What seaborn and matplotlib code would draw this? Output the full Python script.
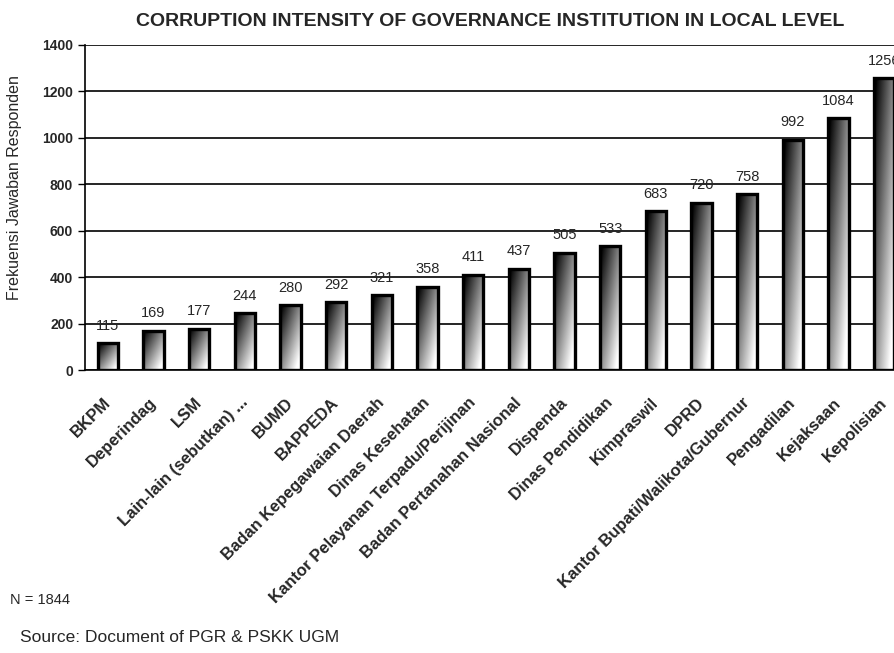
import numpy as np
import pandas as pd
import matplotlib
matplotlib.use("Agg")
import matplotlib.pyplot as plt
import matplotlib.transforms as mtransforms
import seaborn as sns

# data
institutions = ["BKPM", "Deperindag", "LSM", "Lain-lain (sebutkan) ...", "BUMD", "BAPPEDA",
                "Badan Kepegawaian Daerah", "Dinas Kesehatan",
                "Kantor Pelayanan Terpadu/Perijinan", "Badan Pertanahan Nasional",
                "Dispenda", "Dinas Pendidikan", "Kimpraswil", "DPRD",
                "Kantor Bupati/Walikota/Gubernur", "Pengadilan", "Kejaksaan", "Kepolisian"]
responses = [115, 169, 177, 244, 280, 292, 321, 358, 411, 437, 505, 533, 683, 720, 758, 992, 1084, 1256]
y_ticks = [0, 200, 400, 600, 800, 1000, 1200, 1400]

df = pd.DataFrame({"institution": institutions, "responses": responses})

sns.set_style("white")
plt.rcParams["font.family"] = ["Liberation Sans", "DejaVu Sans"]

fig = plt.figure(figsize=(8.94, 6.53), dpi=100)
ax = fig.add_axes([85 / 894, 1 - 370 / 653, 822 / 894, 325 / 653])

sns.barplot(data=df, x="institution", y="responses", color="white", edgecolor="black",
            linewidth=2.4, width=0.45, ax=ax, zorder=3)

# gradient fill: dark top-left to light bottom-right
gx, gy = np.meshgrid(np.linspace(0, 1, 60), np.linspace(0, 1, 120))
grad = np.clip(0.6 * gx + 0.6 * gy - 0.05, 0, 1)
for bar in ax.patches:
    x0 = bar.get_x()
    w = bar.get_width()
    h = bar.get_height()
    bar.set_facecolor("none")
    im = ax.imshow(grad, cmap="gray", vmin=0, vmax=1, extent=(x0, x0 + w, 0, h),
                   aspect="auto", zorder=2.5, interpolation="bilinear")
    im.set_clip_path(bar)
    ax.text(x0 + w / 2, h + 45, str(int(h)), ha="center", va="bottom", fontsize=10.5)

ax.set_xlim(-0.5, len(institutions) - 0.5)
ax.set_ylim(0, 1400)
ax.set_yticks(y_ticks)
ax.set_yticklabels([str(v) for v in y_ticks], fontsize=10, fontweight="bold")
ax.grid(axis="y", color="black", linewidth=1.2, zorder=1)
ax.set_axisbelow(True)

ax.set_xticks(np.arange(len(institutions)))
ax.set_xticklabels(institutions, rotation=45, ha="right", rotation_mode="anchor",
                   fontsize=12, fontweight="bold")
ax.tick_params(axis="x", which="major", length=0, pad=18)
shift = mtransforms.ScaledTranslation(-5 / 100, 0, fig.dpi_scale_trans)
for lbl in ax.get_xticklabels():
    lbl.set_transform(lbl.get_transform() + shift)
ax.set_xticks(np.arange(len(institutions) + 1) - 0.5, minor=True)
ax.tick_params(axis="x", which="minor", length=5, width=1, color="black", direction="out")
ax.tick_params(axis="y", length=5, width=1, color="black", direction="out", left=True)

for side in ["top", "right"]:
    ax.spines[side].set_visible(False)
for side in ["left", "bottom"]:
    ax.spines[side].set_color("black")
    ax.spines[side].set_linewidth(1.2)

ax.set_xlabel("")
ax.set_ylabel("Frekuensi Jawaban Responden", fontsize=11.5)
ax.yaxis.set_label_coords(-0.077, 0.56)

fig.text(490 / 894, 1 - 21 / 653, "CORRUPTION INTENSITY OF GOVERNANCE INSTITUTION IN LOCAL LEVEL",
         ha="center", va="center", fontsize=14, fontweight="bold")
fig.text(10 / 894, 1 - 600 / 653, "N = 1844", ha="left", va="center", fontsize=10.5)
fig.text(20 / 894, 1 - 637 / 653, "Source: Document of PGR & PSKK UGM", ha="left", va="center",
         fontsize=12.5)

fig.savefig("out.png", dpi=100)
